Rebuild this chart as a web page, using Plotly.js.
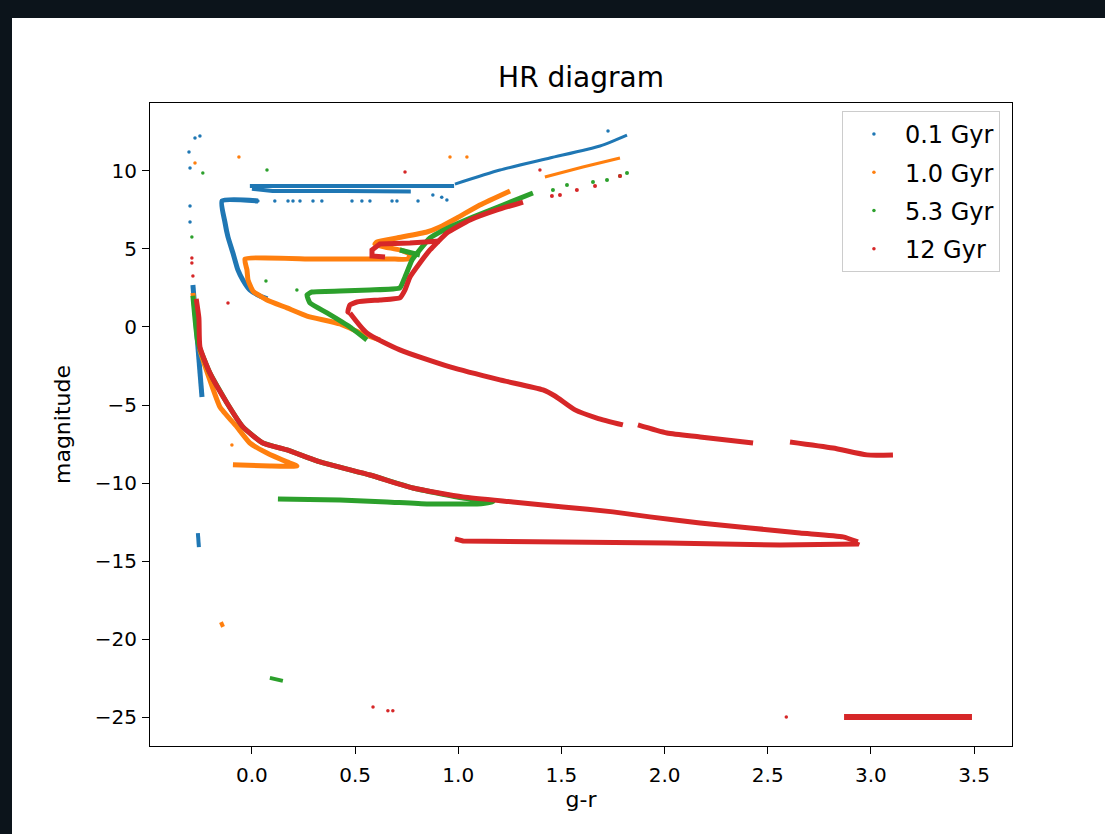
<!DOCTYPE html>
<html>
<head>
<meta charset="utf-8">
<script src="https://cdn.plot.ly/plotly-3.0.1.min.js"></script>
<style>
  html, body { margin: 0; padding: 0; background: #0c141b; width: 1105px; height: 834px; overflow: hidden; }
  #chart { position: absolute; left: 12px; top: 18px; width: 1093px; height: 816px; background: #fff; }
</style>
</head>
<body>
<div id="chart"></div>
<script>
// ---------- 0.1 Gyr ----------
const blueTurnX = [0.03, -0.145, -0.131, -0.116, -0.092, -0.068, -0.044, -0.010, 0.039, 0.075];
const blueTurnY = [8.07, 8.07, 6.72, 5.76, 4.74, 3.65, 3.01, 2.37, 1.98, 1.80];
const blueBand1X = [-0.01, 0.30, 0.60, 0.98];
const blueBand1Y = [9.03, 9.03, 9.00, 9.03];
const blueRiseX = [0.984, 1.202, 1.444, 1.687, 1.818];
const blueRiseY = [9.15, 10.05, 10.82, 11.59, 12.29];
const blueBand2X = [0.00, 0.10, 0.45, 0.77];
const blueBand2Y = [8.85, 8.71, 8.71, 8.68];
const blueColX = [-0.286, -0.276, -0.262, -0.242];
const blueColY = [2.69, 0.90, -1.92, -4.48];
const blueLowX = [-0.262, -0.257];
const blueLowY = [-13.2, -14.1];
const blueDotsX = [-0.276, -0.252, -0.305, -0.300, -0.300, -0.300, 1.726, 0.029, 0.111, 0.175, 0.199, 0.233, 0.296, 0.339, 0.485, 0.533, 0.572, 0.679, 0.703, 0.805, 0.877, 0.920, 0.945];
const blueDotsY = [12.10, 12.23, 11.20, 10.18, 7.75, 6.72, 12.55, 8.07, 8.07, 8.07, 8.07, 8.07, 8.07, 8.07, 8.07, 8.07, 8.07, 8.07, 8.07, 8.07, 8.45, 8.30, 8.13];

// ---------- 1.0 Gyr ----------
const orangeTrackX = [0.620, 0.538, 0.427, 0.267, 0.170, 0.073, 0.005, -0.019, -0.024, -0.034, 0.300, 0.693, 0.756, 0.766, 0.717, 0.645, 0.596, 0.606, 0.703, 0.848, 0.911, 0.994, 1.105, 1.251];
const orangeTrackY = [-0.83, -0.45, 0.19, 0.70, 1.22, 1.73, 2.30, 3.01, 3.65, 4.35, 4.35, 4.35, 4.35, 4.67, 4.93, 5.12, 5.31, 5.44, 5.70, 6.08, 6.40, 6.98, 7.81, 8.71];
const orangeRGBX = [1.420, 1.604, 1.784];
const orangeRGBY = [9.60, 10.24, 10.82];
const orangeMSX = [-0.286, -0.271, -0.252, -0.204, -0.155, -0.073, -0.010, 0.073, 0.170, 0.218, 0.087, -0.092];
const orangeMSY = [2.18, 0.45, -1.47, -3.39, -5.12, -6.40, -7.43, -8.07, -8.64, -8.90, -8.90, -8.83];
const orangeLowX = [-0.150, -0.140];
const orangeLowY = [-18.9, -19.2];
const orangeDotsX = [-0.276, -0.063, 0.960, 1.042, -0.097];
const orangeDotsY = [10.50, 10.88, 10.88, 10.88, -7.55];

// ---------- 5.3 Gyr ----------
const greenTrackX = [0.557, 0.475, 0.364, 0.281, 0.267, 0.291, 0.427, 0.572, 0.717, 0.742, 0.776, 0.805, 0.863, 0.960, 1.071, 1.217, 1.362];
const greenTrackY = [-0.83, 0.00, 0.90, 1.54, 2.05, 2.24, 2.30, 2.37, 2.50, 3.20, 4.29, 4.80, 5.70, 6.40, 7.04, 7.81, 8.58];
const greenRGBX = [1.459, 1.527, 1.653, 1.721, 1.784, 1.818];
const greenRGBY = [8.77, 9.09, 9.28, 9.41, 9.67, 9.86];
const greenClumpX = [0.717, 0.766, 0.814];
const greenClumpY = [4.93, 4.80, 4.61];
const greenMSX = [-0.286, -0.262, -0.204, -0.121, -0.044, 0.053, 0.170, 0.330, 0.572, 0.780, 1.023, 1.168, 1.091, 0.848, 0.654, 0.427, 0.126];
const greenMSY = [2.00, -1.00, -2.94, -4.87, -6.40, -7.43, -7.87, -8.64, -9.48, -10.31, -10.95, -11.20, -11.33, -11.33, -11.20, -11.08, -11.01];
const greenLowX = [0.087, 0.150];
const greenLowY = [-22.47, -22.66];
const greenDotsX = [-0.238, 0.073, -0.291, 0.068, 0.218];
const greenDotsY = [9.86, 10.05, 5.76, 2.94, 2.37];

// ---------- 12 Gyr ----------
const redHookX = [0.475, 0.465, 0.475, 0.509, 0.620, 0.717, 0.742, 0.766, 0.814, 0.863, 0.945, 1.057, 1.188, 1.314];
const redHookY = [0.90, 0.96, 1.41, 1.60, 1.73, 1.86, 2.37, 3.20, 4.10, 4.93, 6.02, 6.85, 7.49, 8.00];
const redRGBX = [1.454, 1.493, 1.575, 1.663, 1.784];
const redRGBY = [8.39, 8.45, 8.77, 9.03, 9.67];
const redClumpX = [0.645, 0.582, 0.582, 0.620, 0.766, 0.911];
const redClumpY = [4.48, 4.55, 4.93, 5.31, 5.38, 5.51];
const redBranchX = [0.475, 0.557, 0.717, 0.960, 1.202, 1.411, 1.469, 1.566, 1.672, 1.798, null, 1.871, 2.012, 2.172, 2.429, null, 2.608, 2.816, 2.981, 3.107];
const redBranchY = [0.90, -0.38, -1.47, -2.56, -3.39, -4.03, -4.42, -5.31, -5.83, -6.27, null, -6.27, -6.79, -7.04, -7.43, null, -7.36, -7.75, -8.19, -8.19];
const redMSX = [-0.270, -0.257, -0.252, -0.204, -0.121, -0.044, 0.053, 0.170, 0.330, 0.572, 0.780, 1.023, 1.265, 1.508, 1.750, 1.929, 2.172, 2.414, 2.656, 2.865, 2.937];
const redMSY = [1.80, 0.58, -1.28, -2.94, -4.87, -6.40, -7.43, -7.87, -8.64, -9.48, -10.31, -10.88, -11.20, -11.52, -11.84, -12.16, -12.55, -12.87, -13.19, -13.44, -13.76];
const redReturnX = [2.937, 2.933, 2.559, 2.012, 1.023, 0.984];
const redReturnY = [-13.76, -13.89, -13.96, -13.83, -13.70, -13.57];
const redLowX = [2.87, 3.49];
const redLowY = [-24.97, -24.97];
const redDotsX = [0.742, -0.291, -0.291, -0.286, -0.116, 1.396, 0.587, 0.659, 0.683, 2.590];
const redDotsY = [9.92, 4.42, 4.10, 3.27, 1.54, 10.05, -24.33, -24.58, -24.58, -24.97];

const names = ['0.1 Gyr', '1.0 Gyr', '5.3 Gyr', '12 Gyr'];
const colors = ['#1f77b4', '#ff7f0e', '#2ca02c', '#d62728'];

function track(x, y, i, w, smooth) {
  const line = { color: colors[i], width: w };
  if (smooth) { line.shape = 'spline'; line.smoothing = smooth; }
  return { type: 'scatter', mode: 'lines', x: x, y: y, legendgroup: names[i], showlegend: false,
           line: line, hoverinfo: 'skip', connectgaps: false };
}
function dots(x, y, i, sz, legend) {
  return { type: 'scatter', mode: 'markers', x: x, y: y, name: names[i], legendgroup: names[i],
           showlegend: !!legend, marker: { color: colors[i], size: sz, line: { width: 0 } } };
}

const traces = [
  dots(blueDotsX, blueDotsY, 0, 3.5, true),
  track(blueTurnX, blueTurnY, 0, 5, 0.5),
  track(blueBand1X, blueBand1Y, 0, 4),
  track(blueRiseX, blueRiseY, 0, 3, 0.6),
  track(blueBand2X, blueBand2Y, 0, 4),
  track(blueColX, blueColY, 0, 5),
  track(blueLowX, blueLowY, 0, 4),

  dots(orangeDotsX, orangeDotsY, 1, 3.5, true),
  track(orangeTrackX, orangeTrackY, 1, 5, 0.4),
  track(orangeRGBX, orangeRGBY, 1, 3, 0.6),
  track(orangeMSX, orangeMSY, 1, 5, 0.4),
  track(orangeLowX, orangeLowY, 1, 4),

  dots(greenDotsX, greenDotsY, 2, 3.5, true),
  dots(greenRGBX, greenRGBY, 2, 4, false),
  track(greenTrackX, greenTrackY, 2, 5, 0.4),
  track(greenClumpX, greenClumpY, 2, 5),
  track(greenMSX, greenMSY, 2, 5, 0.4),
  track(greenLowX, greenLowY, 2, 4),

  dots(redDotsX, redDotsY, 3, 3.5, true),
  dots(redRGBX, redRGBY, 3, 4, false),
  track(redHookX, redHookY, 3, 5, 0.4),
  track(redClumpX, redClumpY, 3, 5),
  track(redBranchX, redBranchY, 3, 5, 0.6),
  track(redMSX, redMSY, 3, 5, 0.5),
  track(redReturnX, redReturnY, 3, 5),
  track(redLowX, redLowY, 3, 6)
];

const font = 'DejaVu Sans, sans-serif';
const axisCommon = {
  showline: true, mirror: true, linecolor: '#000', linewidth: 1,
  ticks: 'outside', ticklen: 7, tickwidth: 1, tickcolor: '#000',
  showgrid: false, zeroline: false,
  tickfont: { family: font, size: 20, color: '#000' }
};

const layout = {
  width: 1093, height: 816,
  margin: { l: 138, r: 93, t: 85, b: 88 },
  paper_bgcolor: '#fff', plot_bgcolor: '#fff',
  font: { family: font, color: '#000' },
  title: { text: 'HR diagram', x: 0.5, xref: 'paper', y: 0.928, yref: 'container', yanchor: 'middle',
           font: { family: font, size: 28, color: '#000' } },
  xaxis: Object.assign({}, axisCommon, {
    range: [-0.494, 3.684], tick0: 0, dtick: 0.5, tickformat: '.1f', ticklabelstandoff: 4,
    title: { text: 'g-r', font: { family: font, size: 22 }, standoff: 2 }
  }),
  yaxis: Object.assign({}, axisCommon, {
    range: [-26.83, 14.34], tick0: 0, dtick: 5, ticklabelstandoff: 1,
    title: { text: 'magnitude', font: { family: font, size: 22 }, standoff: 18 }
  }),
  showlegend: true,
  legend: {
    x: 0.986, xanchor: 'right', y: 0.9876, yanchor: 'top',
    bgcolor: 'rgba(255,255,255,0.8)', bordercolor: '#cccccc', borderwidth: 1,
    font: { family: font, size: 24, color: '#000' },
    traceorder: 'grouped', tracegroupgap: 4, itemwidth: 52
  }
};

Plotly.newPlot('chart', traces, layout, { displayModeBar: false, staticPlot: true });
</script>
</body>
</html>
